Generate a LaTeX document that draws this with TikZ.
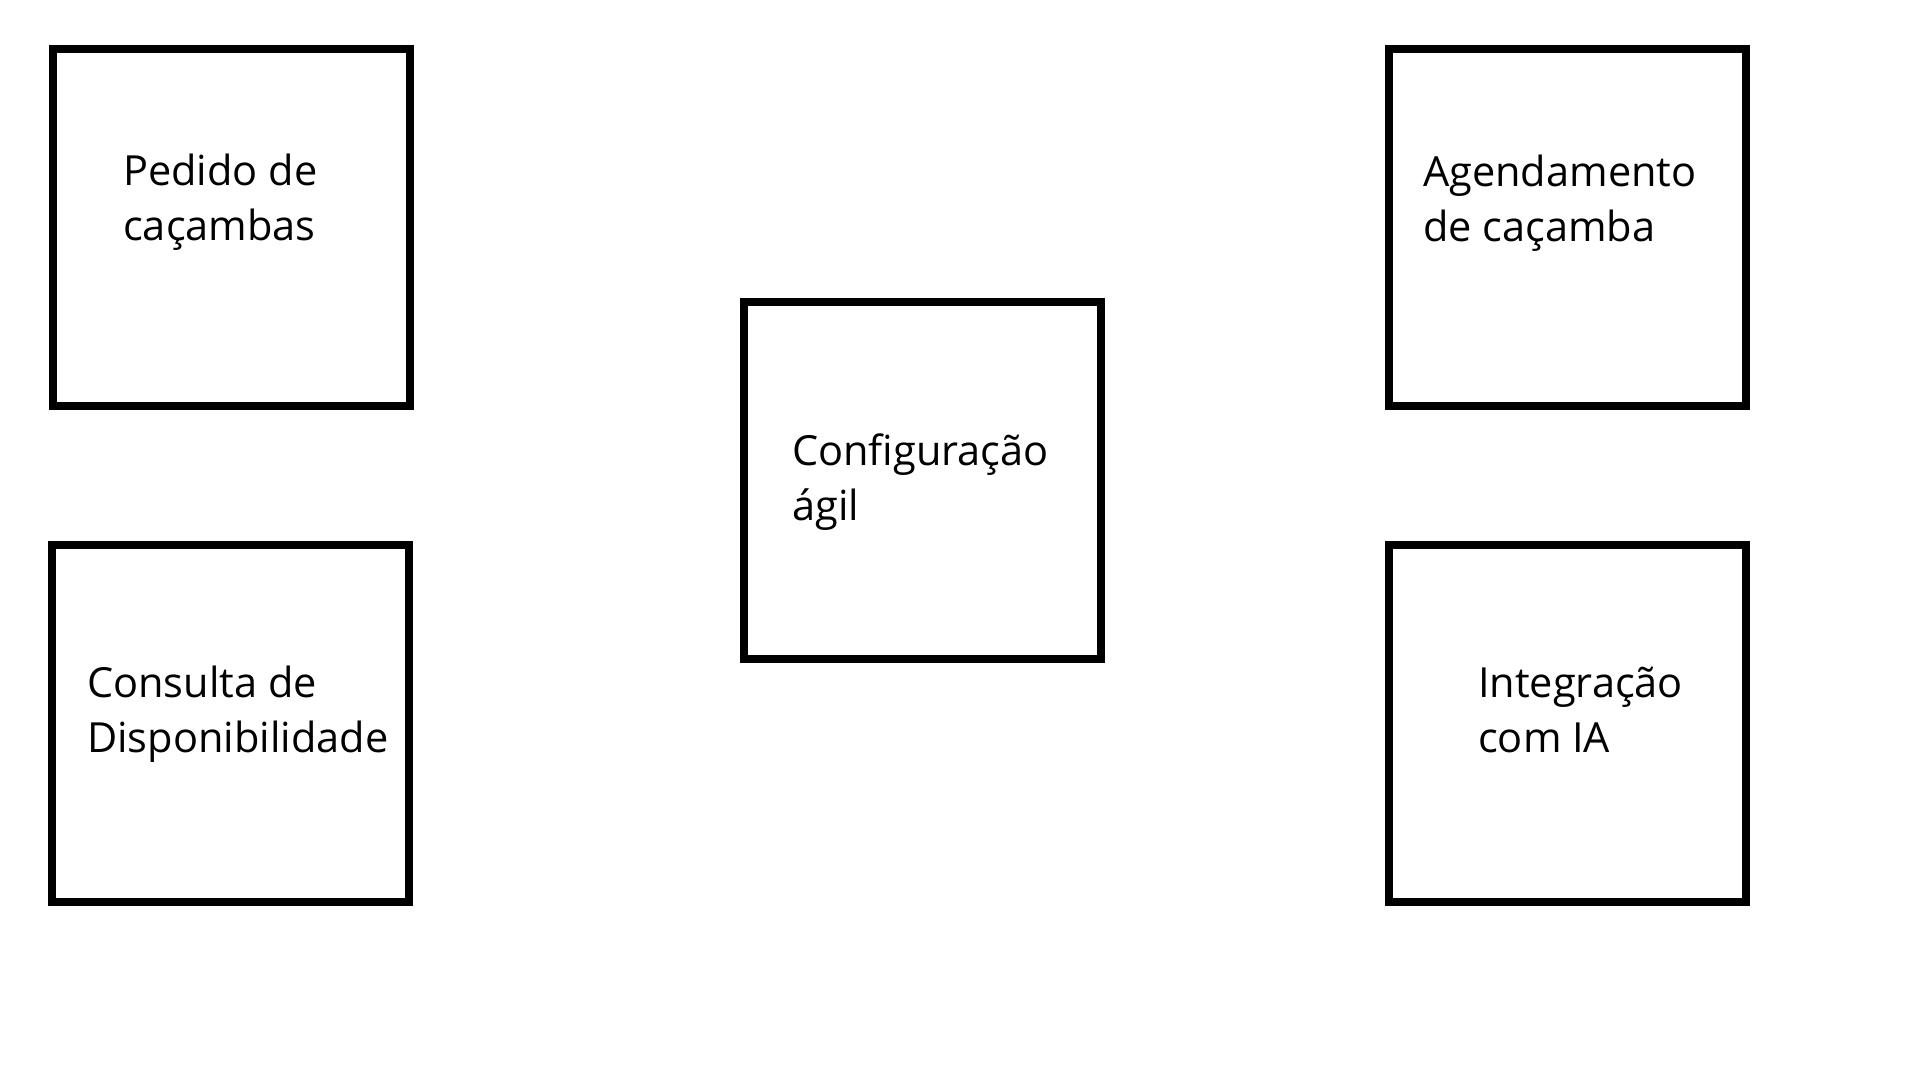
\documentclass[tikz,border=0pt]{standalone}
\usepackage{fontspec}
\setmainfont{Open Sans}
\begin{document}
\begin{tikzpicture}[x=1pt,y=-1pt,
  caixa/.style={draw,line width=8pt,minimum size=357pt,inner sep=0pt},
  rotulo/.style={anchor=base west,align=left,inner sep=0pt,font=\fontsize{41.5}{55}\selectfont}]
\useasboundingbox (0,0) rectangle (1920,1080);
\node[caixa] (pedido) at (231,227) {};
\node[caixa] (agenda) at (1567.5,227) {};
\node[caixa] (config) at (922,480) {};
\node[caixa] (consulta) at (230.5,723) {};
\node[caixa] (integra) at (1567,723) {};
\node[rotulo] (tpedido) at (123,240) {Pedido de\\caçambas};
\node[rotulo] (tagenda) at (1423,241) {Agendamento\\de caçamba};
\node[rotulo] (tconfig) at (792,520) {Configuração\\ágil};
\node[rotulo] (tconsulta) at (87,752) {Consulta de\\Disponibilidade};
\node[rotulo] (tintegra) at (1478,752) {Integração\\com IA};
\end{tikzpicture}
\end{document}
